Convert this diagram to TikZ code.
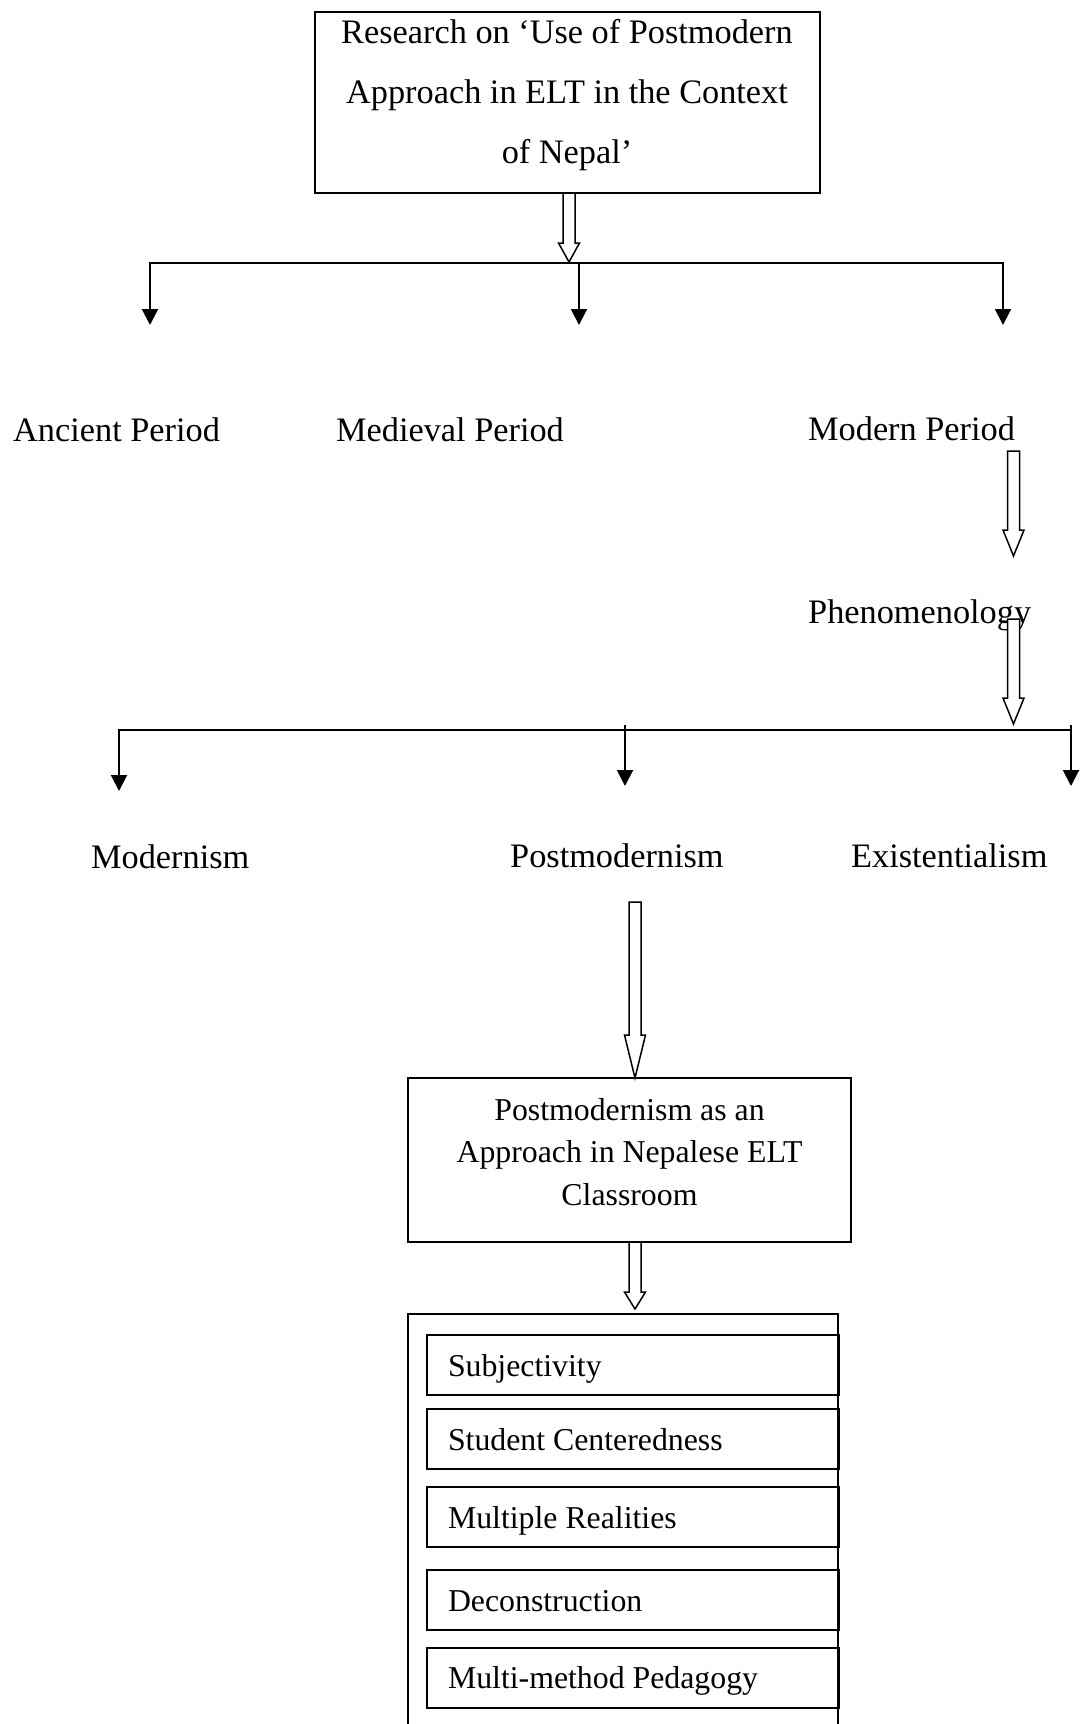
\documentclass[tikz,border=0pt]{standalone}
\usepackage{fontspec}
\setmainfont{Liberation Serif}
\usetikzlibrary{arrows.meta,calc}
\tikzset{
  lbl/.style={inner sep=0pt, font=\fontsize{34.3}{40}\selectfont, anchor=base west},
  ctr/.style={inner sep=0pt, font=\fontsize{34.3}{40}\selectfont, anchor=base},
  ctrs/.style={inner sep=0pt, font=\fontsize{31.8}{40}\selectfont, anchor=base},
  frame/.style={draw, line width=2pt, inner sep=0pt},
  item/.style={draw, line width=2pt, minimum width=412pt, minimum height=60pt,
    text width=370pt, inner xsep=21pt, inner ysep=0pt, align=flush left,
    text height=24pt, text depth=2pt, font=\fontsize{31.8}{40}\selectfont, anchor=west},
  conn/.style={line width=2pt, -{Triangle[length=16pt,width=16pt]}},
  bar/.style={line width=2pt, line cap=rect},
  blk/.style={draw, line width=1.5pt, fill=white, line join=miter},
}
% block (hollow) arrow from #1 to tip #2, head length #3
\newcommand\blockarrow[3]{%
  \draw[blk] ($(#1)+(-6,0)$) -- ($(#1)+(6,0)$) -- ($(#2)+(6,-#3)$) -- ($(#2)+(10.5,-#3)$)
    -- (#2) -- ($(#2)+(-10.5,-#3)$) -- ($(#2)+(-6,-#3)$) -- cycle;}
\begin{document}
\begin{tikzpicture}[x=1pt,y=-1pt]
\fill[white] (0,0) rectangle (1084,1724);
\useasboundingbox (0,0) rectangle (1084,1724);

% top box
\node[frame, minimum width=505.5pt, minimum height=181pt] (top) at (567.25,102.5) {};
\node[ctr] (top1) at (567,43.5) {Research on ‘Use of Postmodern};
\node[ctr] (top2) at (567,103.5) {Approach in ELT in the Context};
\node[ctr] (top3) at (567,163.5) {of Nepal’};

% first branch
\coordinate (a1s) at (569,193);
\coordinate (a1t) at (569,262);
\coordinate (b1L) at (150,263);
\coordinate (b1M) at (579,263);
\coordinate (b1R) at (1003,263);
\coordinate (e1) at (150,325);
\coordinate (e2) at (579,325);
\coordinate (e3) at (1003,325);
\draw[bar] (b1L) -- (b1R);
\draw[conn] (b1L) -- (e1);
\draw[conn] (b1M) -- (e2);
\draw[conn] (b1R) -- (e3);
\blockarrow{a1s}{a1t}{19}

\node[lbl] (anc) at (13,441) {Ancient Period};
\node[lbl] (med) at (336,441) {Medieval Period};
\node[lbl] (mod) at (808,440) {Modern Period};
\node[lbl] (phe) at (808,623) {Phenomenology};

\coordinate (a2s) at (1013.5,451);
\coordinate (a2t) at (1013.5,556);
\blockarrow{a2s}{a2t}{26}

% second branch
\coordinate (b2L) at (119,730);
\coordinate (b2M) at (625,725);
\coordinate (b2R) at (1071,730);
\coordinate (b2Rt) at (1071,725);
\coordinate (f1) at (119,791);
\coordinate (f2) at (625,786);
\coordinate (f3) at (1071,786);
\draw[bar] (b2L) -- (b2R);
\draw[conn] (b2L) -- (f1);
\draw[conn] (b2M) -- (f2);
\draw[conn] (b2Rt) -- (f3);

\coordinate (a3s) at (1013.5,619);
\coordinate (a3t) at (1013.5,724);
\blockarrow{a3s}{a3t}{26}

\node[lbl] (mdn) at (91,868) {Modernism};
\node[lbl] (pmd) at (510,867) {Postmodernism};
\node[lbl] (exi) at (851,867) {Existentialism};

% postmodernism box
\coordinate (a4s) at (635,902);
\coordinate (a4t) at (635,1078);
\blockarrow{a4s}{a4t}{43}

\node[frame, minimum width=443pt, minimum height=164pt] (pbox) at (629.5,1160) {};
\node[ctrs] (pb1) at (629.5,1120) {Postmodernism as an};
\node[ctrs] (pb2) at (629.5,1162.5) {Approach in Nepalese ELT};
\node[ctrs] (pb3) at (629.5,1205) {Classroom};

\coordinate (a5s) at (635,1242);
\coordinate (a5t) at (635,1309);
\blockarrow{a5s}{a5t}{17}

% list box
\coordinate (lBL) at (408,1724);
\coordinate (lTL) at (408,1314);
\coordinate (lTR) at (838,1314);
\coordinate (lBR) at (838,1724);
\draw[line width=2pt] (lBL) -- (lTL) -- (lTR) -- (lBR);

\node[item] (i1) at (426,1365) {Subjectivity};
\node[item] (i2) at (426,1439) {Student Centeredness};
\node[item] (i3) at (426,1517) {Multiple Realities};
\node[item] (i4) at (426,1600) {Deconstruction};
\node[item] (i5) at (426,1677.5) {Multi-method Pedagogy};
\end{tikzpicture}
\end{document}
